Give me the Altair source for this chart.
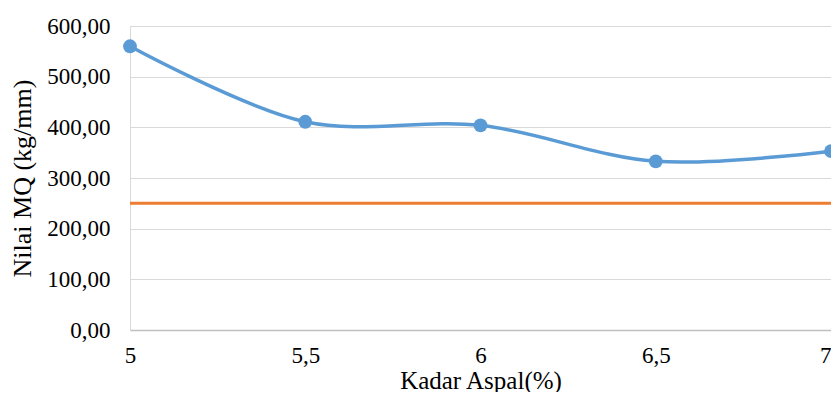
import altair as alt
import pandas as pd

kadar = [5, 5.5, 6, 6.5, 7]
nilai_mq = [560, 411, 404, 333, 353]
batas = [250, 250, 250, 250, 250]
y_ticks = [0, 100, 200, 300, 400, 500, 600]
x_ticks = [5, 5.5, 6, 6.5, 7]

df = pd.DataFrame({"kadar": kadar, "mq": nilai_mq, "batas": batas})

FONT = "Liberation Serif"

x_enc = alt.X(
    "kadar:Q",
    scale=alt.Scale(domain=[5, 7], nice=False, zero=False),
    axis=alt.Axis(
        values=x_ticks,
        labelExpr="replace(format(datum.value, '~g'), '.', ',')",
        labelFlush=False,
        labelAlign=alt.condition("datum.value >= 7", alt.value("right"), alt.value("center")),
        title="Kadar Aspal(%)",
        grid=False,
        ticks=False,
        tickSize=0,
        labelPadding=14,
        labelFont=FONT,
        labelFontSize=23,
        labelColor="#000000",
        titleFont=FONT,
        titleFontSize=25,
        titleFontWeight="normal",
        titleColor="#000000",
        titleY=50,
        titleBaseline="middle",
        domainColor="#BFBFBF",
        domainWidth=1.5,
    ),
)

y_enc = alt.Y(
    "mq:Q",
    scale=alt.Scale(domain=[0, 600], nice=False),
    axis=alt.Axis(
        values=y_ticks,
        labelExpr="replace(format(datum.value, '.2f'), '.', ',')",
        title="Nilai MQ (kg/mm)",
        grid=True,
        gridColor="#D9D9D9",
        gridWidth=1,
        ticks=False,
        tickSize=0,
        labelPadding=20,
        labelFont=FONT,
        labelFontSize=23,
        labelColor="#000000",
        titleFont=FONT,
        titleFontSize=26,
        titleFontWeight="normal",
        titleColor="#000000",
        titleX=-108,
        titleY=152,
        titleAngle=-90,
        titleAlign="center",
        titleBaseline="middle",
        domainColor="#D9D9D9",
        domainWidth=1,
    ),
)

base = alt.Chart(df)

spec_line = base.mark_line(color="#ED7D31", strokeWidth=3).encode(
    x=x_enc, y=alt.Y("batas:Q")
)

mq_line = base.mark_line(
    color="#5B9BD5", strokeWidth=3.5, interpolate="catmull-rom"
).encode(x=x_enc, y=y_enc)

mq_points = base.mark_circle(color="#5B9BD5", size=190, opacity=1).encode(
    x=x_enc, y=y_enc
)

chart = (
    alt.layer(mq_line, spec_line, mq_points)
    .properties(
        width=701,
        height=304,
        autosize=alt.AutoSizeParams(type="none"),
        padding={"left": 122, "top": 18, "right": 0, "bottom": 62},
    )
    .configure_view(stroke=None)
    .configure(background="#FFFFFF")
)

chart.save("out.html", embed_options={"renderer": "svg", "actions": False})
